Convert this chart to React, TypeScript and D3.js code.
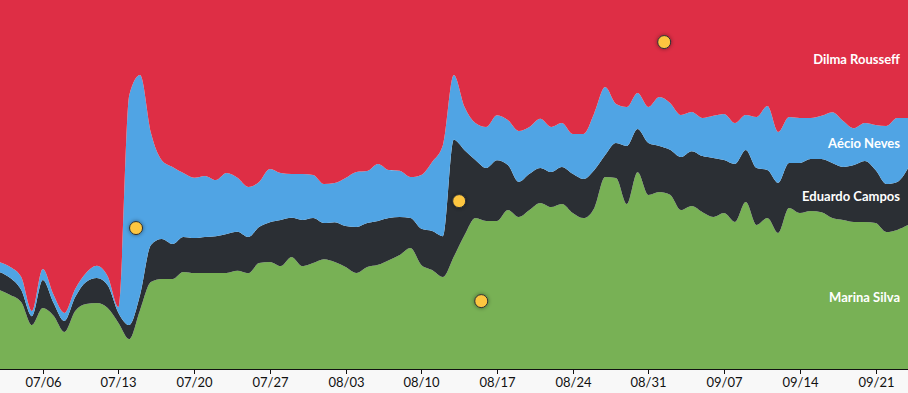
import * as d3 from "d3";

const W = 908;
const H = 393;
const CHART_H = 369;

const START = new Date(2014, 6, 2);
const END = new Date(2014, 8, 24);

// daily share (%) per candidate, 07/02 .. 09/24
const marina = [
  21.4, 20.1, 18.2, 11.9, 16.5, 14.4, 10.0, 15.7, 17.6, 17.9, 16.5, 12.5,
  8.1, 16.0, 23.6, 24.4, 24.4, 26.3, 26.0, 26.0, 26.0, 26.0, 26.6, 26.0,
  28.7, 29.0, 27.9, 30.4, 27.9, 28.7, 29.8, 29.0, 27.6, 26.0, 27.6, 28.2,
  29.5, 30.9, 32.8, 28.2, 26.8, 24.9, 30.4, 36.3, 40.9, 40.1, 40.1, 43.1,
  41.2, 43.1, 45.0, 43.9, 44.7, 42.3, 40.9, 43.6, 52.0, 51.8, 44.7, 53.4,
  47.2, 48.0, 47.2, 43.1, 44.2, 42.5, 41.2, 42.3, 39.8, 45.3, 39.0, 40.9,
  36.9, 43.6, 42.3, 42.8, 42.5, 40.9, 40.4, 39.8, 39.8, 39.6, 37.1, 37.7, 39.0,
];
const campos = [
  4.9, 4.6, 3.3, 2.4, 7.6, 3.5, 3.0, 3.8, 6.0, 6.8, 6.2, 2.7,
  3.8, 4.1, 10.0, 10.8, 9.5, 9.5, 9.5, 9.8, 10.0, 10.6, 10.6, 9.8,
  9.8, 10.8, 12.5, 10.6, 12.5, 12.2, 9.8, 10.8, 11.1, 12.5, 11.9, 11.9,
  11.4, 10.3, 8.1, 9.8, 10.6, 11.1, 31.7, 23.0, 15.7, 14.4, 16.5, 12.2,
  9.5, 9.8, 9.5, 9.5, 10.0, 10.6, 10.6, 10.3, 6.0, 9.5, 15.7, 11.7,
  14.1, 12.5, 12.2, 14.4, 14.9, 15.2, 16.0, 14.4, 15.7, 14.1, 15.4, 13.0,
  13.6, 12.2, 13.6, 14.1, 14.4, 14.9, 14.4, 15.4, 16.5, 14.4, 13.0, 13.0, 15.4,
];
const aecio = [
  2.7, 3.0, 3.5, 1.4, 3.0, 2.2, 2.2, 2.2, 2.4, 3.3, 2.4, 1.6,
  62.3, 59.6, 30.4, 21.4, 20.9, 17.3, 16.3, 16.5, 15.2, 16.5, 14.6, 13.6,
  12.2, 14.4, 12.7, 11.9, 12.5, 11.7, 10.6, 10.6, 13.0, 14.9, 14.1, 15.4,
  13.0, 12.5, 11.1, 14.6, 18.7, 24.7, 17.6, 11.7, 10.0, 11.1, 12.2, 12.2,
  13.8, 12.7, 13.3, 12.2, 11.9, 10.8, 12.2, 15.4, 18.4, 10.6, 10.6, 9.8,
  9.8, 13.3, 12.7, 11.4, 10.6, 10.3, 11.4, 12.5, 11.1, 9.5, 13.8, 17.3,
  13.8, 12.5, 12.2, 11.1, 11.7, 13.8, 12.5, 10.0, 10.3, 12.2, 15.7, 17.3, 13.6,
];
const dilma = [
  71.0, 72.4, 75.1, 84.3, 72.9, 79.9, 84.8, 78.3, 74.0, 72.1, 74.8, 83.2,
  25.7, 20.3, 36.0, 43.4, 45.3, 46.9, 48.2, 47.7, 48.8, 46.9, 48.2, 50.7,
  49.3, 45.8, 46.9, 47.2, 47.2, 47.4, 49.9, 49.6, 48.2, 46.6, 46.3, 44.4,
  46.1, 46.3, 48.0, 47.4, 43.9, 39.3, 20.3, 29.0, 33.3, 34.4, 31.2, 32.5,
  35.5, 34.4, 32.2, 34.4, 33.3, 36.3, 36.3, 30.6, 23.6, 28.2, 29.0, 25.2,
  29.0, 26.3, 27.9, 31.2, 30.4, 32.0, 31.4, 30.9, 33.3, 31.2, 31.7, 28.7,
  35.8, 31.7, 32.0, 32.0, 31.4, 30.4, 32.8, 34.7, 33.3, 33.9, 34.1, 32.0, 32.0,
];

const candidates = [
  { key: "marina", name: "Marina Silva", color: "#78b155", values: marina },
  { key: "campos", name: "Eduardo Campos", color: "#2b2f34", values: campos },
  { key: "aecio", name: "Aécio Neves", color: "#50a4e4", values: aecio },
  { key: "dilma", name: "Dilma Rousseff", color: "#de2e45", values: dilma },
];

// event markers: timestamp + vertical share position
const events = [
  { date: "2014-07-14T15:00", share: 0.382 },
  { date: "2014-08-13T12:00", share: 0.455 },
  { date: "2014-08-15T13:00", share: 0.184 },
  { date: "2014-09-01T11:00", share: 0.886 },
];

export default function App() {
  const days = d3.timeDay.range(START, d3.timeDay.offset(END, 1));
  const rows = days.map((date, i) => {
    const row: any = { date };
    candidates.forEach((c) => (row[c.key] = c.values[i]));
    return row;
  });

  const series = d3
    .stack()
    .keys(candidates.map((c) => c.key))
    .offset(d3.stackOffsetExpand)(rows);

  const x = d3.scaleTime().domain([START, END]).range([-0.5, W]);
  const y = d3.scaleLinear().domain([0, 1]).range([CHART_H, 0]);

  const area = d3
    .area<any>()
    .x((d) => x(d.data.date))
    .y0((d) => y(d[0]))
    .y1((d) => y(d[1]))
    .curve(d3.curveMonotoneX);

  const ticks = d3.timeWeek.every(1)!.range(START, END);
  const fmt = d3.timeFormat("%m/%d");
  const last = rows.length - 1;

  return (
    <svg width={W} height={H} style={{ display: "block", fontFamily: "Lato, sans-serif" }}>
      <style>{`body{margin:0}`}</style>
      <defs>
        <filter id="glow" x="-100%" y="-100%" width="300%" height="300%">
          <feDropShadow dx="0" dy="0" stdDeviation="2" floodColor="#000" floodOpacity="0.45" />
        </filter>
      </defs>
      <rect x={0} y={CHART_H} width={W} height={H - CHART_H} fill="#f8f8f8" />
      {series.map((s, i) => (
        <path key={s.key} d={area(s as any) || ""} fill={candidates[i].color} />
      ))}
      {series.map((s, i) => (
        <text
          key={s.key + "-label"}
          x={W - 8}
          y={y((s[last][0] + s[last][1]) / 2)}
          dy="0.35em"
          textAnchor="end"
          fill="#fff"
          fontWeight={700}
          fontSize={13}
        >
          {candidates[i].name}
        </text>
      ))}
      {events.map((e, i) => (
        <circle
          key={i}
          cx={x(new Date(e.date))}
          cy={y(e.share)}
          r={6.5}
          fill="#fdc640"
          stroke="#2b2f34"
          strokeWidth={1}
          filter="url(#glow)"
        />
      ))}
      <g transform={`translate(0,${CHART_H})`}>
        <line x1={0} x2={W} y1={0.5} y2={0.5} stroke="#111" />
        {ticks.map((t) => (
          <g key={+t} transform={`translate(${Math.round(x(t)) + 0.5},0)`}>
            <line y1={0} y2={5} stroke="#111" />
            <text y={17.5} textAnchor="middle" fontSize={13} fill="#111">
              {fmt(t)}
            </text>
          </g>
        ))}
      </g>
    </svg>
  );
}
